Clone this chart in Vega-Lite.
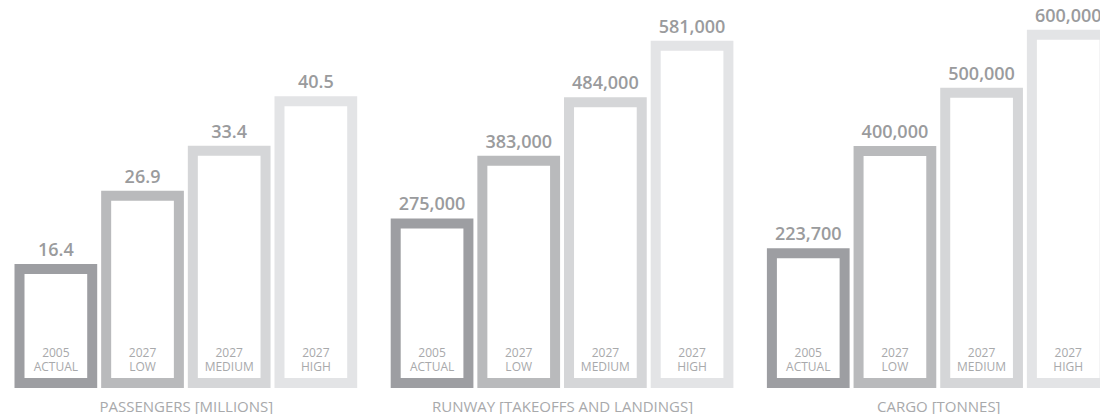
{
  "$schema": "https://vega.github.io/schema/vega-lite/v6.json",
  "background": "white",
  "padding": {"left": 14.5, "top": 0, "right": 0, "bottom": 0},
  "bounds": "flush",
  "spacing": 43.2,
  "config": {
    "view": {"stroke": null},
    "font": "Open Sans"
  },
  "datasets": {
    "airport": [
      {"group": "PASSENGERS [MILLIONS]", "scenario": "ACTUAL", "label": ["2005", "ACTUAL"], "value": 16.4},
      {"group": "PASSENGERS [MILLIONS]", "scenario": "LOW", "label": ["2027", "LOW"], "value": 26.9},
      {"group": "PASSENGERS [MILLIONS]", "scenario": "MEDIUM", "label": ["2027", "MEDIUM"], "value": 33.4},
      {"group": "PASSENGERS [MILLIONS]", "scenario": "HIGH", "label": ["2027", "HIGH"], "value": 40.5},
      {"group": "RUNWAY [TAKEOFFS AND LANDINGS]", "scenario": "ACTUAL", "label": ["2005", "ACTUAL"], "value": 275000},
      {"group": "RUNWAY [TAKEOFFS AND LANDINGS]", "scenario": "LOW", "label": ["2027", "LOW"], "value": 383000},
      {"group": "RUNWAY [TAKEOFFS AND LANDINGS]", "scenario": "MEDIUM", "label": ["2027", "MEDIUM"], "value": 484000},
      {"group": "RUNWAY [TAKEOFFS AND LANDINGS]", "scenario": "HIGH", "label": ["2027", "HIGH"], "value": 581000},
      {"group": "CARGO [TONNES]", "scenario": "ACTUAL", "label": ["2005", "ACTUAL"], "value": 223700},
      {"group": "CARGO [TONNES]", "scenario": "LOW", "label": ["2027", "LOW"], "value": 400000},
      {"group": "CARGO [TONNES]", "scenario": "MEDIUM", "label": ["2027", "MEDIUM"], "value": 500000},
      {"group": "CARGO [TONNES]", "scenario": "HIGH", "label": ["2027", "HIGH"], "value": 600000}
    ]
  },
  "hconcat": [
    {
      "width": 332.7,
      "height": 383,
      "data": {"name": "airport"},
      "transform": [{"filter": "datum.group === 'PASSENGERS [MILLIONS]'"}],
      "encoding": {
        "x": {
          "field": "scenario", "type": "nominal", "sort": null,
          "scale": {"paddingInner": 0.161, "paddingOuter": 0},
          "axis": {"labels": false, "ticks": false, "domain": false, "title": "PASSENGERS [MILLIONS]",
            "titleFont": "Open Sans", "titleFontSize": 15, "titleFontWeight": 400, "titleColor": "#a8a9ab", "titlePadding": 16}
        }
      },
      "layer": [
        {
          "mark": {"type": "bar", "fill": "white", "strokeWidth": 10, "strokeJoin": "miter"},
          "encoding": {
            "y": {"field": "value", "type": "quantitative", "scale": {"domain": [0, 55.05], "nice": false}, "axis": null},
            "stroke": {"field": "scenario", "type": "nominal", "legend": null,
              "scale": {"domain": ["ACTUAL", "LOW", "MEDIUM", "HIGH"], "range": ["#9d9ea2", "#b9babc", "#d5d6d8", "#e3e4e6"]}}
          }
        },
        {
          "mark": {"type": "text", "dy": -13, "baseline": "alphabetic", "font": "Open Sans", "fontSize": 18, "fontWeight": 600, "color": "#9a9b9d"},
          "encoding": {
            "y": {"field": "value", "type": "quantitative"},
            "text": {"field": "value", "type": "quantitative", "format": ".1f"}
          }
        },
        {
          "mark": {"type": "text", "dy": -26, "baseline": "alphabetic", "lineHeight": 14, "font": "Open Sans", "fontSize": 12, "fontWeight": 400, "color": "#a8a9ab"},
          "encoding": {"y": {"datum": 0, "type": "quantitative"}, "text": {"field": "label"}}
        }
      ]
    },
    {
      "width": 332.7,
      "height": 383,
      "data": {"name": "airport"},
      "transform": [{"filter": "datum.group === 'RUNWAY [TAKEOFFS AND LANDINGS]'"}],
      "encoding": {
        "x": {
          "field": "scenario", "type": "nominal", "sort": null,
          "scale": {"paddingInner": 0.161, "paddingOuter": 0},
          "axis": {"labels": false, "ticks": false, "domain": false, "title": "RUNWAY [TAKEOFFS AND LANDINGS]",
            "titleFont": "Open Sans", "titleFontSize": 15, "titleFontWeight": 400, "titleColor": "#a8a9ab", "titlePadding": 16}
        }
      },
      "layer": [
        {
          "mark": {"type": "bar", "fill": "white", "strokeWidth": 10, "strokeJoin": "miter"},
          "encoding": {
            "y": {"field": "value", "type": "quantitative", "scale": {"domain": [0, 660000], "nice": false}, "axis": null},
            "stroke": {"field": "scenario", "type": "nominal", "legend": null,
              "scale": {"domain": ["ACTUAL", "LOW", "MEDIUM", "HIGH"], "range": ["#9d9ea2", "#b9babc", "#d5d6d8", "#e3e4e6"]}}
          }
        },
        {
          "mark": {"type": "text", "dy": -13, "baseline": "alphabetic", "font": "Open Sans", "fontSize": 18, "fontWeight": 600, "color": "#9a9b9d"},
          "encoding": {
            "y": {"field": "value", "type": "quantitative"},
            "text": {"field": "value", "type": "quantitative", "format": ","}
          }
        },
        {
          "mark": {"type": "text", "dy": -26, "baseline": "alphabetic", "lineHeight": 14, "font": "Open Sans", "fontSize": 12, "fontWeight": 400, "color": "#a8a9ab"},
          "encoding": {"y": {"datum": 0, "type": "quantitative"}, "text": {"field": "label"}}
        }
      ]
    },
    {
      "width": 332.7,
      "height": 383,
      "data": {"name": "airport"},
      "transform": [{"filter": "datum.group === 'CARGO [TONNES]'"}],
      "encoding": {
        "x": {
          "field": "scenario", "type": "nominal", "sort": null,
          "scale": {"paddingInner": 0.161, "paddingOuter": 0},
          "axis": {"labels": false, "ticks": false, "domain": false, "title": "CARGO [TONNES]",
            "titleFont": "Open Sans", "titleFontSize": 15, "titleFontWeight": 400, "titleColor": "#a8a9ab", "titlePadding": 16}
        }
      },
      "layer": [
        {
          "mark": {"type": "bar", "fill": "white", "strokeWidth": 10, "strokeJoin": "miter"},
          "encoding": {
            "y": {"field": "value", "type": "quantitative", "scale": {"domain": [0, 660000], "nice": false}, "axis": null},
            "stroke": {"field": "scenario", "type": "nominal", "legend": null,
              "scale": {"domain": ["ACTUAL", "LOW", "MEDIUM", "HIGH"], "range": ["#9d9ea2", "#b9babc", "#d5d6d8", "#e3e4e6"]}}
          }
        },
        {
          "mark": {"type": "text", "dy": -13, "baseline": "alphabetic", "font": "Open Sans", "fontSize": 18, "fontWeight": 600, "color": "#9a9b9d"},
          "encoding": {
            "y": {"field": "value", "type": "quantitative"},
            "text": {"field": "value", "type": "quantitative", "format": ","}
          }
        },
        {
          "mark": {"type": "text", "dy": -26, "baseline": "alphabetic", "lineHeight": 14, "font": "Open Sans", "fontSize": 12, "fontWeight": 400, "color": "#a8a9ab"},
          "encoding": {"y": {"datum": 0, "type": "quantitative"}, "text": {"field": "label"}}
        }
      ]
    }
  ],
  "resolve": {"scale": {"stroke": "shared"}}
}
